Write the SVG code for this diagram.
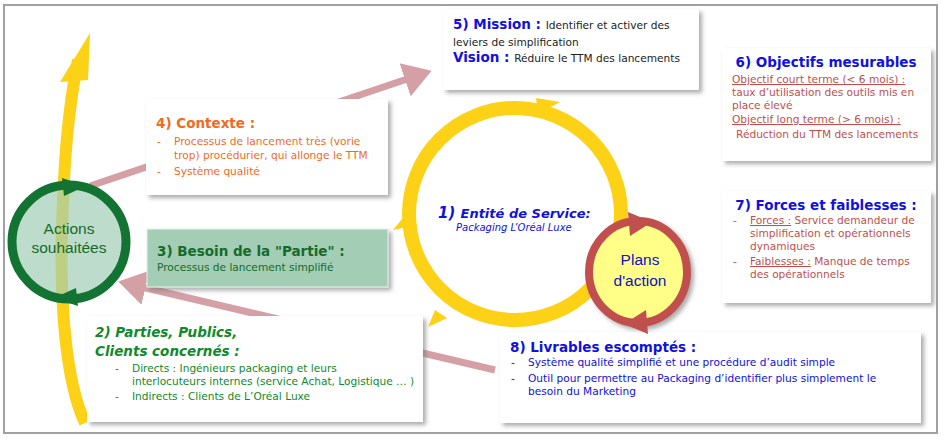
<svg xmlns="http://www.w3.org/2000/svg" width="950" height="446" viewBox="0 0 950 446">
<defs>
<style>
text{font-family:Verdana,"DejaVu Sans",sans-serif;font-size:10.6px}
.box{fill:#fff;filter:url(#sh)}
.or{fill:#f36a1e}
.gr{fill:#0f8a2a}
.rd{fill:#c0504d}
.bl{fill:#1010e0}
.bk{fill:#222}
.u{text-decoration:underline}
.h{font-weight:bold;font-size:13.5px}
.c{font-size:15.5px;font-family:'Liberation Sans',sans-serif}
</style>
<filter id="sh" x="-10%" y="-10%" width="125%" height="130%"><feDropShadow dx="3" dy="3" stdDeviation="2" flood-color="#777" flood-opacity="0.6"/></filter>
<marker id="pk" markerWidth="6" markerHeight="6" refX="3" refY="3" orient="auto" markerUnits="strokeWidth"><path d="M0,0.5L4,3L0,5.5z" fill="#d4a0a6"/></marker>
</defs>
<rect x="4" y="5" width="933" height="428" fill="#fff" stroke="#a0a0a0" stroke-width="2"/>
<g id="connectors">
<path d="M90,186L425,73" stroke="#d4a0a6" stroke-width="7" fill="none" marker-end="url(#pk)"/>
<path d="M495,370L125,283" stroke="#d4a0a6" stroke-width="7" fill="none" marker-end="url(#pk)"/>
<path d="M85,423C65,380 60,300 62,230C64,160 68,110 78,60" stroke="#fcd116" stroke-width="12" fill="none"/>
<path d="M60,82L90,33L88,80z" fill="#fcd116"/>
<circle cx="515" cy="214" r="106" fill="none" stroke="#fcd116" stroke-width="14"/>
<path d="M536,98L560,102L538,114z" fill="#fcd116"/>
<path d="M406,214L393,230L417,225z" fill="#fcd116"/>
<path d="M435,310L428,327L447,318z" fill="#fcd116"/>
</g>
<g id="n5"><rect class="box" x="443" y="9" width="256" height="81"/>
<text x="453" y="29" class="bl"><tspan class="h">5) Mission : </tspan><tspan fill="#222">Identifier et activer des</tspan></text>
<text x="453" y="46" class="bk">leviers de simplification</text>
<text x="453" y="62" class="bl"><tspan class="h">Vision : </tspan><tspan fill="#222">Réduire le TTM des lancements</tspan></text></g>
<g id="n6"><rect class="box" x="722" y="48" width="209" height="113"/>
<text x="826" y="67" text-anchor="middle" class="bl h">6) Objectifs mesurables</text>
<text x="732" y="83" class="rd u">Objectif court terme (&lt; 6 mois) :</text>
<text x="732" y="96" class="rd">taux d’utilisation des outils mis en</text>
<text x="732" y="109" class="rd">place élevé</text>
<text x="732" y="123" class="rd u">Objectif long terme (&gt; 6 mois) :</text>
<text x="736" y="138" class="rd">Réduction du TTM  des lancements</text></g>
<g id="n7"><rect class="box" x="722" y="191" width="209" height="112"/>
<text x="826" y="210" text-anchor="middle" class="bl h">7) Forces et faiblesses :</text>
<text x="733" y="224" class="rd">-</text><text x="750" y="224" class="rd"><tspan class="u">Forces :</tspan> Service demandeur de</text>
<text x="750" y="237" class="rd">simplification et opérationnels</text>
<text x="750" y="250" class="rd">dynamiques</text>
<text x="733" y="265" class="rd">-</text><text x="750" y="265" class="rd"><tspan class="u">Faiblesses :</tspan> Manque de temps</text>
<text x="750" y="278" class="rd">des opérationnels</text></g>
<g id="n4"><rect class="box" x="146" y="99" width="242" height="96"/>
<text x="156" y="128" class="or h">4) Contexte :</text>
<text x="157" y="145" class="or">-</text><text x="174" y="145" class="or">Processus de lancement très (vorie</text>
<text x="174" y="159" class="or">trop) procédurier, qui allonge le TTM</text>
<text x="157" y="175" class="or">-</text><text x="174" y="175" class="or">Système qualité</text></g>
<g id="n3"><rect x="147" y="229" width="241" height="58" fill="#a3cdb5" filter="url(#sh)" stroke="#e8f2ec"/>
<text x="157" y="256" class="h" fill="#156b2c">3) Besoin de la "Partie" :</text>
<text x="157" y="271" fill="#156b2c">Processus de lancement simplifié</text></g>
<g id="n2"><rect class="box" x="87" y="316" width="336" height="106"/>
<text x="95" y="337" class="h gr" font-style="italic">2) Parties, Publics,</text>
<text x="95" y="356" class="h gr" font-style="italic">Clients concernés :</text>
<text x="115" y="372" class="gr">-</text><text x="132" y="372" class="gr">Directs :  Ingénieurs packaging et leurs</text>
<text x="132" y="385" class="gr">interlocuteurs internes (service Achat, Logistique … )</text>
<text x="115" y="400" class="gr">-</text><text x="132" y="400" class="gr">Indirects : Clients de L’Oréal Luxe</text></g>
<g id="n8"><rect class="box" x="500" y="332" width="421" height="91"/>
<text x="510" y="352" class="bl h">8) Livrables escomptés  :</text>
<text x="511" y="366" class="bl">-</text><text x="528" y="366" class="bl">Système qualité simplifié et une procédure d’audit simple</text>
<text x="511" y="382" class="bl">-</text><text x="528" y="382" class="bl">Outil pour permettre au Packaging d’identifier plus simplement le</text>
<text x="528" y="395" class="bl">besoin du Marketing</text></g>
<g id="n1">
<text x="438" y="218" fill="#1010e0" style="font-size:15px" font-weight="bold" font-style="italic">1)  <tspan style="font-size:13px">Entité de Service:</tspan></text>
<text x="456" y="231" fill="#1010e0" style="font-size:10px" font-style="italic">Packaging L’Oréal Luxe</text></g>
<g id="na"><circle cx="69" cy="242" r="57" fill="#a3cdb5" fill-opacity="0.7" stroke="#137332" stroke-width="9"/>
<path d="M62,178L86,186L64,196z" fill="#137332"/>
<path d="M78,306L54,298L76,288z" fill="#137332"/>
<text x="69" y="234" text-anchor="middle" fill="#156b2c" class="c">Actions</text>
<text x="69" y="253" text-anchor="middle" fill="#156b2c" class="c">souhaitées</text></g>
<g id="np"><ellipse cx="638" cy="272" rx="49" ry="51" fill="#ffff88" stroke="#c0504d" stroke-width="8" filter="url(#sh)"/>
<path d="M628,212L652,222L630,236z" fill="#c0504d"/>
<path d="M648,334L624,324L646,310z" fill="#c0504d"/>
<text x="640" y="265" text-anchor="middle" fill="#1010c0" class="c">Plans</text>
<text x="640" y="286" text-anchor="middle" fill="#1010c0" class="c">d'action</text></g>
</svg>
